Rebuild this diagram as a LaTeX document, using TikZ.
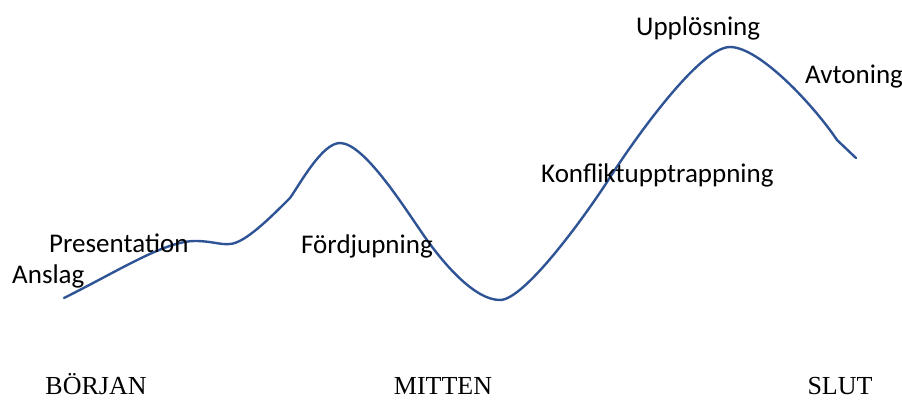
\documentclass[tikz,border=0pt]{standalone}
\usepackage{fontspec}
\setmainfont{Liberation Serif}
\newfontfamily\labelfont{Carlito}
\definecolor{curveblue}{RGB}{47,84,150}

\begin{document}
\begin{tikzpicture}[
	x=1pt, y=-1pt,
	phase/.style={ inner sep=0pt, anchor=base west, font=\labelfont\fontsize{27}{32}\selectfont },
	part/.style={ inner sep=0pt, anchor=base, font=\fontsize{26}{31}\selectfont },
	arc/.style={ curveblue, line width=2.4pt, line join=round, line cap=round }
]
\useasboundingbox (0,0) rectangle (902,399);

% the curve
\draw[arc] (64,298) .. controls (120,270) and (165,241) .. (195,241)
	.. controls (212,241) and (220,245) .. (230,244)
	.. controls (245,243) and (270,218) .. (290,198)
	.. controls (300,184) and (322,143) .. (340,143)
	.. controls (365,143) and (407,212) .. (427,240)
	.. controls (445,265) and (475,300) .. (500,300)
	.. controls (525,300) and (587,213) .. (607,182)
	.. controls (635,138) and (700,47) .. (730,47)
	.. controls (760,47) and (815,107) .. (837,140)
	-- (856,158);

% phases along the curve
\node (anslag) at (12,283) [phase] {Anslag};
\node (pres) at (49,252) [phase] {Presentation};
\node (ford) at (301,253) [phase] {Fördjupning};
\node (konf) at (541,182) [phase] {Konfliktupptrappning};
\node (uppl) at (636,35) [phase] {Upplösning};
\node (avt) at (805,83) [phase] {Avtoning};

% parts
\node (borjan) at (96,394) [part] {BÖRJAN};
\node (mitten) at (443,394) [part] {MITTEN};
\node (slut) at (840,394) [part] {SLUT};

\end{tikzpicture}
\end{document}
